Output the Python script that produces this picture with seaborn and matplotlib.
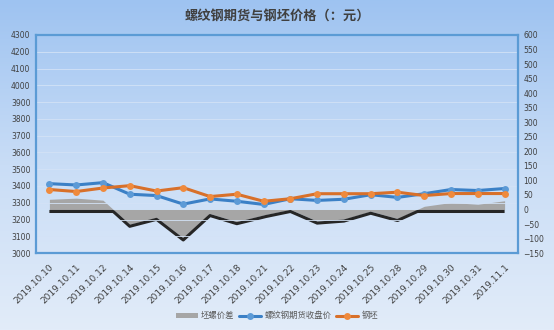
import numpy as np
import pandas as pd
import matplotlib
matplotlib.use('Agg')
import matplotlib.pyplot as plt
import matplotlib.transforms as mtransforms
from matplotlib.colors import LinearSegmentedColormap
from matplotlib.patches import Patch
from matplotlib.lines import Line2D
import seaborn as sns

dates = ['2019.10.10', '2019.10.11', '2019.10.12', '2019.10.14', '2019.10.15',
         '2019.10.16', '2019.10.17', '2019.10.18', '2019.10.21', '2019.10.22',
         '2019.10.23', '2019.10.24', '2019.10.25', '2019.10.28', '2019.10.29',
         '2019.10.30', '2019.10.31', '2019.11.1']
rebar = [3414, 3406, 3420, 3351, 3343, 3292, 3323, 3309, 3290, 3324,
         3314, 3321, 3348, 3332, 3354, 3379, 3373, 3385]
billet = [3379, 3367, 3388, 3402, 3370, 3390, 3337, 3351, 3309, 3324,
          3354, 3354, 3354, 3363, 3343, 3355, 3355, 3355]
spread = [35, 39, 32, -51, -27, -98, -14, -42, -19, 0,
          -40, -33, -6, -31, 11, 24, 18, 30]

left_ticks = list(range(3000, 4301, 100))
right_ticks = list(range(-150, 601, 50))

legend_labels = ['坯螺价差', '螺纹钢期货收盘价', '钢坯']
title = '螺纹钢期货与钢坯价格（：元）'

df = pd.DataFrame({'x': np.arange(len(dates)), 'date': dates,
                   'rebar': rebar, 'billet': billet, 'spread': spread})

sns.set_style('white')
plt.rcParams['font.family'] = ['Noto Sans CJK SC', 'DejaVu Sans']

fig = plt.figure(figsize=(5.54, 3.30), dpi=100)

# gradient background
bg = fig.add_axes([0, 0, 1, 1], zorder=-10)
grad = np.linspace(0, 1, 256).reshape(-1, 1)
cmap = LinearSegmentedColormap.from_list('bg', ['#9ec3f1', '#c9ddf6', '#e2ecf9'])
bg.imshow(grad, aspect='auto', cmap=cmap, extent=[0, 1, 0, 1], origin='upper')
bg.axis('off')

ax = fig.add_axes([0.065, 0.233, 0.870, 0.661])
ax2 = ax.twinx()
ax.set_zorder(ax2.get_zorder() + 1)
ax.patch.set_alpha(0)
ax2.patch.set_alpha(0)

# spread area (right axis)
ax2.fill_between(df['x'], 0, df['spread'], color='#a6a6a6', lw=0, interpolate=True)
xs = np.linspace(0, len(dates) - 1, 800)
ys = np.minimum(np.interp(xs, df['x'], df['spread']), 0)
shadow = mtransforms.offset_copy(ax2.transData, fig=fig, x=0, y=-2, units='dots')
ax2.plot(xs, ys, color='#262626', lw=2.2, transform=shadow, solid_capstyle='butt')

# lines (left axis)
sns.lineplot(data=df, x='x', y='rebar', ax=ax, color='#3b80c6', lw=2.2,
             marker='o', markersize=5, markerfacecolor='#5c9ad6',
             markeredgewidth=0, legend=False)
sns.lineplot(data=df, x='x', y='billet', ax=ax, color='#d8702a', lw=2.2,
             marker='o', markersize=5, markerfacecolor='#ef8a3d',
             markeredgewidth=0, legend=False)

ax.set_xlim(-0.5, len(dates) - 0.5)
ax.set_ylim(3000, 4300)
ax2.set_ylim(-150, 600)
ax.set_yticks(left_ticks)
ax2.set_yticks(right_ticks)
ax.set_xticks(df['x'])
ax.set_xticklabels(dates, rotation=45, ha='right', rotation_mode='anchor',
                   fontsize=6.5, color='#404040', family='DejaVu Sans')
ax.tick_params(axis='x', length=0, pad=7)
ax.tick_params(axis='y', length=0, labelsize=5.5, labelcolor='#404040', pad=4)
ax2.tick_params(axis='y', length=0, labelsize=5.5, labelcolor='#404040', pad=4)
for lab in ax.get_yticklabels() + ax2.get_yticklabels():
    lab.set_family('DejaVu Sans')
ax.set_xlabel('')
ax.set_ylabel('')
ax2.set_ylabel('')

ax.grid(axis='y', color='#d3e2f6', lw=0.6)
ax.grid(axis='x', visible=False)
ax2.grid(False)
for s in ax.spines.values():
    s.set_visible(True)
    s.set_color('#5b9bd5')
    s.set_linewidth(1.6)
for s in ax2.spines.values():
    s.set_visible(False)

fig.text(0.5, 0.953, title, ha='center', va='center', fontsize=9.5,
         fontweight='bold', color='#404040')

handles = [Patch(facecolor='#a6a6a6', edgecolor='none'),
           Line2D([], [], color='#3b80c6', lw=2.2, marker='o', markersize=5,
                  markerfacecolor='#5c9ad6', markeredgewidth=0),
           Line2D([], [], color='#d8702a', lw=2.2, marker='o', markersize=5,
                  markerfacecolor='#ef8a3d', markeredgewidth=0)]
fig.legend(handles, legend_labels, loc='center', bbox_to_anchor=(0.5, 0.043),
           ncol=3, frameon=False, fontsize=6, handlelength=2.6,
           handleheight=0.6, handletextpad=0.4, columnspacing=0.6,
           labelcolor='#595959')

fig.savefig('out.png', dpi=100)
